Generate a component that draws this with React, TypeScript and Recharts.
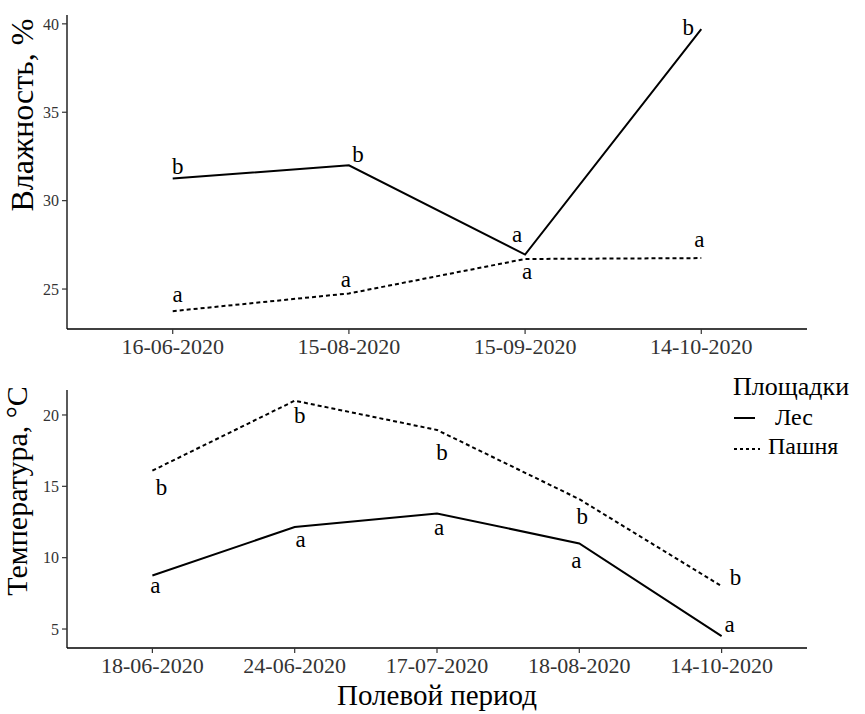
import React from 'react';
import { LineChart, Line, XAxis, YAxis, LabelList } from 'recharts';

// ---------- data ----------
const humidityDates = ['16-06-2020', '15-08-2020', '15-09-2020', '14-10-2020'];
const humidityForest = [31.25, 32.0, 26.95, 39.7];
const humidityField = [23.75, 24.75, 26.7, 26.75];
const humidityForestLetters = ['b', 'b', 'a', 'b'];
const humidityFieldLetters = ['a', 'a', 'a', 'a'];
const humidityTicks = [25, 30, 35, 40];

const tempDates = ['18-06-2020', '24-06-2020', '17-07-2020', '18-08-2020', '14-10-2020'];
const tempForest = [8.75, 12.15, 13.1, 11.0, 4.5];
const tempField = [16.1, 21.0, 18.95, 14.1, 8.0];
const tempForestLetters = ['a', 'a', 'a', 'a', 'a'];
const tempFieldLetters = ['b', 'b', 'b', 'b', 'b'];
const tempTicks = [5, 10, 15, 20];

const legendTitle = 'Площадки';
const seriesNames = ['Лес', 'Пашня'];

// ---------- style (label offsets in px: [dx, dy of baseline]) ----------
const humForestOff = [[5, -5], [9, -3], [-8, -13], [-13, 6]];
const humFieldOff = [[5, -9], [-3, -6], [2, 20], [-2, -11]];
const tempForestOff = [[3, 17], [6, 20], [2, 22], [-3, 25], [8, -4]];
const tempFieldOff = [[9, 24], [5, 22], [5, 30], [3, 25], [14, -1]];

const FONT = '"Liberation Serif", "Times New Roman", serif';
const DASH = '4 3';

const humidityRows = humidityDates.map((d, i) => ({
  i,
  date: d,
  forest: humidityForest[i],
  field: humidityField[i],
  forestLetter: humidityForestLetters[i],
  fieldLetter: humidityFieldLetters[i],
}));

const tempRows = tempDates.map((d, i) => ({
  i,
  date: d,
  forest: tempForest[i],
  field: tempField[i],
  forestLetter: tempForestLetters[i],
  fieldLetter: tempFieldLetters[i],
}));

const makeLetter = (offsets: number[][]) => (props: any) => {
  const { x, y, value, index } = props;
  const off = offsets[index] || [0, 0];
  return (
    <text
      x={Number(x) + off[0]}
      y={Number(y) + off[1]}
      textAnchor="middle"
      fontFamily={FONT}
      fontSize={23}
      fill="#000"
    >
      {value}
    </text>
  );
};

const axisLine = { stroke: '#000', strokeWidth: 1.3 };
const tickLine = { stroke: '#333', strokeWidth: 1.2 };

export default function App() {
  return (
    <div
      style={{
        position: 'absolute',
        left: 0,
        top: 0,
        width: 865,
        height: 714,
        background: '#fff',
        fontFamily: FONT,
      }}
    >
      {/* Top: humidity */}
      <div style={{ position: 'absolute', left: 0, top: 0 }}>
        <LineChart
          width={865}
          height={370}
          data={humidityRows}
          margin={{ top: 15, right: 58, bottom: 0, left: 0 }}
        >
          <XAxis
            type="number"
            dataKey="i"
            domain={[-0.6, humidityDates.length - 0.4]}
            ticks={humidityDates.map((_, i) => i)}
            tickFormatter={(v: number) => humidityDates[v]}
            interval={0}
            allowDataOverflow
            height={41}
            tickSize={5}
            tickMargin={4}
            axisLine={axisLine}
            tickLine={tickLine}
            tick={{ fontSize: 22, fill: '#333', fontFamily: FONT }}
          />
          <YAxis
            type="number"
            domain={[22.74, 40.5]}
            ticks={humidityTicks}
            allowDataOverflow
            width={67}
            tickSize={5}
            tickMargin={3}
            axisLine={axisLine}
            tickLine={tickLine}
            tick={{ fontSize: 16, fill: '#333', fontFamily: FONT }}
            label={() => (
              <text
                x={33}
                y={115}
                transform="rotate(-90 33 115)"
                textAnchor="middle"
                fontFamily={FONT}
                fontSize={32}
                fill="#000"
              >
                Влажность, %
              </text>
            )}
          />
          <Line
            type="linear"
            dataKey="forest"
            name={seriesNames[0]}
            stroke="#000"
            strokeWidth={2}
            dot={false}
            activeDot={false}
            isAnimationActive={false}
          >
            <LabelList dataKey="forestLetter" content={makeLetter(humForestOff)} />
          </Line>
          <Line
            type="linear"
            dataKey="field"
            name={seriesNames[1]}
            stroke="#000"
            strokeWidth={2}
            strokeDasharray={DASH}
            dot={false}
            activeDot={false}
            isAnimationActive={false}
          >
            <LabelList dataKey="fieldLetter" content={makeLetter(humFieldOff)} />
          </Line>
        </LineChart>
      </div>

      {/* Bottom: temperature */}
      <div style={{ position: 'absolute', left: 0, top: 370 }}>
        <LineChart
          width={865}
          height={344}
          data={tempRows}
          margin={{ top: 20, right: 58, bottom: 0, left: 0 }}
        >
          <XAxis
            type="number"
            dataKey="i"
            domain={[-0.6, tempDates.length - 0.4]}
            ticks={tempDates.map((_, i) => i)}
            tickFormatter={(v: number) => tempDates[v]}
            interval={0}
            allowDataOverflow
            height={66}
            tickSize={5}
            tickMargin={4}
            axisLine={axisLine}
            tickLine={tickLine}
            tick={{ fontSize: 22, fill: '#333', fontFamily: FONT }}
            label={() => (
              <text
                x={437}
                y={335}
                textAnchor="middle"
                fontFamily={FONT}
                fontSize={29}
                fill="#000"
              >
                Полевой период
              </text>
            )}
          />
          <YAxis
            type="number"
            domain={[3.67, 21.75]}
            ticks={tempTicks}
            allowDataOverflow
            width={67}
            tickSize={5}
            tickMargin={3}
            axisLine={axisLine}
            tickLine={tickLine}
            tick={{ fontSize: 16, fill: '#333', fontFamily: FONT }}
            label={() => (
              <text
                x={27}
                y={121}
                transform="rotate(-90 27 121)"
                textAnchor="middle"
                fontFamily={FONT}
                fontSize={30}
                fill="#000"
              >
                Температура, °C
              </text>
            )}
          />
          <Line
            type="linear"
            dataKey="forest"
            name={seriesNames[0]}
            stroke="#000"
            strokeWidth={2}
            dot={false}
            activeDot={false}
            isAnimationActive={false}
          >
            <LabelList dataKey="forestLetter" content={makeLetter(tempForestOff)} />
          </Line>
          <Line
            type="linear"
            dataKey="field"
            name={seriesNames[1]}
            stroke="#000"
            strokeWidth={2}
            strokeDasharray={DASH}
            dot={false}
            activeDot={false}
            isAnimationActive={false}
          >
            <LabelList dataKey="fieldLetter" content={makeLetter(tempFieldOff)} />
          </Line>
        </LineChart>
      </div>

      {/* Legend */}
      <svg
        width={135}
        height={90}
        style={{ position: 'absolute', left: 730, top: 370 }}
      >
        <text x={3} y={25} fontFamily={FONT} fontSize={26} fill="#000">
          {legendTitle}
        </text>
        <line x1={4} x2={25} y1={48} y2={48} stroke="#000" strokeWidth={2} />
        <text x={45} y={55} fontFamily={FONT} fontSize={24} fill="#000">
          {seriesNames[0]}
        </text>
        <line x1={4} x2={30} y1={79} y2={79} stroke="#000" strokeWidth={2} strokeDasharray="3 3" />
        <text x={38} y={84} fontFamily={FONT} fontSize={24} fill="#000">
          {seriesNames[1]}
        </text>
      </svg>
    </div>
  );
}
